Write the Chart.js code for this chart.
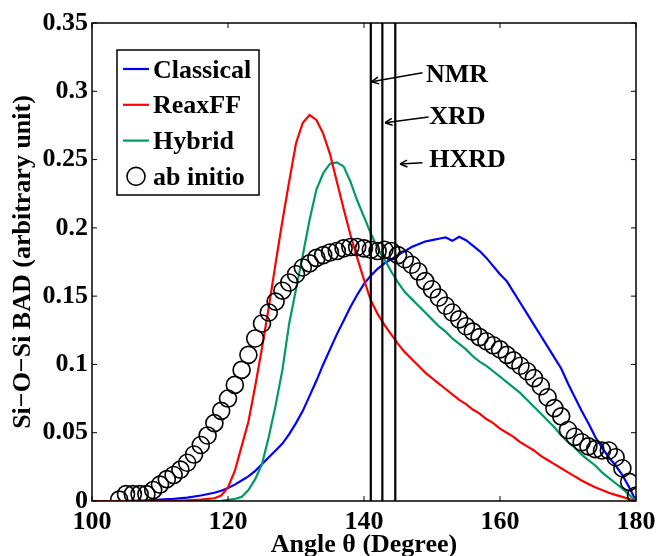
<!DOCTYPE html>
<html>
<head>
<meta charset="utf-8">
<script src="https://cdn.jsdelivr.net/npm/chart.js@4.4.0/dist/chart.umd.min.js"></script>
<style>
  html, body { margin: 0; padding: 0; background: #fff; }
</style>
</head>
<body>
<canvas id="badChart" width="657" height="556"></canvas>
<script>
// Si-O-Si bond angle distribution
var curveAngles = [100, 102, 104, 106, 108, 110, 112, 114, 116, 118,
  119, 120, 121, 122, 123, 124, 125, 126, 127, 128, 129, 130, 131, 132, 133, 134, 135, 136, 137, 138, 139,
  140, 141, 142, 143, 144, 145, 146, 147, 148, 149, 150, 151, 152, 153, 154, 155, 156, 157, 158, 159,
  160, 161, 162, 163, 164, 165, 166, 167, 168, 169, 170, 171, 172, 173, 174, 175, 176, 177, 178, 179, 180];

var classicalBAD = [0, 0, 0, 0.0002, 0.0004, 0.001, 0.0015, 0.0025, 0.004, 0.006,
  0.0075, 0.0095, 0.012, 0.015, 0.018, 0.022, 0.027, 0.032, 0.037, 0.042, 0.049, 0.057, 0.066, 0.077, 0.088, 0.100, 0.111, 0.122, 0.132, 0.142, 0.151,
  0.159, 0.165, 0.170, 0.174, 0.177, 0.180, 0.183, 0.186, 0.188, 0.190, 0.191, 0.192, 0.193, 0.1905, 0.1935, 0.191, 0.187, 0.183, 0.178, 0.172,
  0.166, 0.161, 0.153, 0.145, 0.137, 0.129, 0.121, 0.113, 0.105, 0.097, 0.086, 0.076, 0.066, 0.057, 0.047, 0.039, 0.032, 0.026, 0.019, 0.010, 0];

var reaxffBAD = [0, 0, 0, 0, 0, 0, 0.0002, 0.0005, 0.001, 0.002,
  0.004, 0.010, 0.022, 0.040, 0.058, 0.084, 0.112, 0.142, 0.174, 0.205, 0.234, 0.262, 0.277, 0.2826, 0.279, 0.269, 0.254, 0.234, 0.214, 0.195, 0.178,
  0.162, 0.147, 0.137, 0.129, 0.122, 0.115, 0.109, 0.104, 0.099, 0.094, 0.090, 0.086, 0.082, 0.078, 0.074, 0.071, 0.067, 0.064, 0.060, 0.057,
  0.053, 0.050, 0.047, 0.043, 0.040, 0.037, 0.033, 0.030, 0.027, 0.024, 0.021, 0.018, 0.015, 0.0125, 0.010, 0.008, 0.006, 0.0045, 0.003, 0.0015, 0];

var hybridBAD = [0, 0, 0, 0, 0, 0, 0, 0, 0, 0,
  0.0002, 0.0008, 0.0015, 0.003, 0.008, 0.016, 0.027, 0.047, 0.070, 0.096, 0.130, 0.155, 0.180, 0.206, 0.228, 0.240, 0.247, 0.248, 0.245, 0.234, 0.220,
  0.208, 0.196, 0.185, 0.177, 0.168, 0.160, 0.153, 0.148, 0.143, 0.138, 0.133, 0.128, 0.124, 0.119, 0.115, 0.111, 0.106, 0.102, 0.099, 0.095,
  0.091, 0.087, 0.083, 0.079, 0.074, 0.069, 0.064, 0.059, 0.054, 0.048, 0.043, 0.039, 0.034, 0.030, 0.026, 0.021, 0.017, 0.013, 0.009, 0.0045, 0];

var abInitioAngles = [104, 105, 106, 107, 108, 109, 110, 111, 112, 113, 114, 115, 116, 117, 118, 119,
  120, 121, 122, 123, 124, 125, 126, 127, 128, 129, 130, 131, 132, 133, 134, 135, 136, 137, 138, 139,
  140, 141, 142, 143, 144, 145, 146, 147, 148, 149, 150, 151, 152, 153, 154, 155, 156, 157, 158, 159,
  160, 161, 162, 163, 164, 165, 166, 167, 168, 169, 170, 171, 172, 173, 174, 175, 176, 177, 178, 179, 180];
var abInitioBAD = [0.001, 0.005, 0.005, 0.005, 0.005, 0.008, 0.012, 0.016, 0.019, 0.023, 0.028, 0.034, 0.041, 0.048, 0.057, 0.066,
  0.075, 0.085, 0.096, 0.107, 0.119, 0.130, 0.138, 0.146, 0.154, 0.160, 0.166, 0.171, 0.174, 0.178, 0.180, 0.182, 0.183, 0.185, 0.186, 0.186,
  0.185, 0.184, 0.183, 0.184, 0.183, 0.180, 0.177, 0.173, 0.168, 0.161, 0.155, 0.149, 0.143, 0.138, 0.133, 0.128, 0.124, 0.120, 0.117, 0.114,
  0.111, 0.107, 0.103, 0.099, 0.095, 0.090, 0.084, 0.076, 0.068, 0.062, 0.052, 0.047, 0.043, 0.040, 0.038, 0.037, 0.037, 0.032, 0.024, 0.014, 0.004];

// experimental reference angles
var refNames = ['NMR', 'XRD', 'HXRD'];
var refAngles = [141.0, 142.7, 144.6];

var seriesNames = ['Classical', 'ReaxFF', 'Hybrid', 'ab initio'];
var xTicks = [100, 120, 140, 160, 180];
var yTicks = [0, 0.05, 0.1, 0.15, 0.2, 0.25, 0.3, 0.35];
var yTickLabels = ['0', '0.05', '0.1', '0.15', '0.2', '0.25', '0.3', '0.35'];

var BLUE = '#0000ff', RED = '#ff0000', GREEN = '#009a68';
var FONT = 'Liberation Serif';

function pairs(xs, ys) {
  return xs.map(function (x, i) { return { x: x, y: ys[i] }; });
}

// arrows pointing to the reference lines: tail, tip and label baseline in data units
var refNotes = [
  { tail: [148.6, 0.3136], tip: [141.1, 0.3070], label: [149.1, 0.3068] },
  { tail: [149.5, 0.2812], tip: [143.1, 0.2770], label: [149.6, 0.2760] },
  { tail: [148.6, 0.2477], tip: [145.3, 0.2468], label: [149.6, 0.2448] }
];

var datasets = [
  { label: seriesNames[3], data: pairs(abInitioAngles, abInitioBAD), showLine: false,
    pointRadius: 8.5, pointBorderWidth: 1.6, pointBorderColor: '#000', pointBackgroundColor: 'rgba(0,0,0,0)', order: 0 },
  { label: seriesNames[1], data: pairs(curveAngles, reaxffBAD), borderColor: RED, order: 2 },
  { label: seriesNames[2], data: pairs(curveAngles, hybridBAD), borderColor: GREEN, order: 3 },
  { label: seriesNames[0], data: pairs(curveAngles, classicalBAD), borderColor: BLUE, order: 4 }
];
refAngles.forEach(function (a, i) {
  datasets.push({ label: refNames[i], data: [{ x: a, y: 0 }, { x: a, y: 0.35 }],
    borderColor: '#000', borderWidth: 2.2, order: 1 });
});
datasets.forEach(function (d) {
  if (d.showLine !== false) {
    d.showLine = true;
    d.pointRadius = 0;
    if (!d.borderWidth) d.borderWidth = 2.2;
    d.tension = 0;
  }
});

// box, inward ticks, legend and arrow notes
var decorations = {
  id: 'decorations',
  afterDatasetsDraw: function (chart) {
    var ctx = chart.ctx, a = chart.chartArea;
    var xs = chart.scales.x, ys = chart.scales.y;
    function seg(x1, y1, x2, y2) { ctx.beginPath(); ctx.moveTo(x1, y1); ctx.lineTo(x2, y2); ctx.stroke(); }
    ctx.save();
    ctx.strokeStyle = '#000';
    ctx.lineWidth = 1.5;
    ctx.strokeRect(a.left, a.top, a.right - a.left, a.bottom - a.top);
    ctx.lineWidth = 1;
    xTicks.forEach(function (v) {
      var px = xs.getPixelForValue(v);
      seg(px, a.bottom, px, a.bottom - 5);
      seg(px, a.top, px, a.top + 5);
    });
    yTicks.forEach(function (v) {
      var py = ys.getPixelForValue(v);
      seg(a.left, py, a.left + 5, py);
      seg(a.right, py, a.right - 5, py);
    });

    // arrows and labels for the reference lines
    ctx.fillStyle = '#000';
    ctx.font = 'bold 26px "' + FONT + '"';
    ctx.textBaseline = 'alphabetic';
    ctx.textAlign = 'left';
    ctx.lineWidth = 1.5;
    refNotes.forEach(function (n, i) {
      var tx = xs.getPixelForValue(n.tail[0]), ty = ys.getPixelForValue(n.tail[1]);
      var hx = xs.getPixelForValue(n.tip[0]), hy = ys.getPixelForValue(n.tip[1]);
      seg(tx, ty, hx, hy);
      var ang = Math.atan2(ty - hy, tx - hx);
      var len = 8, spread = 0.45;
      seg(hx, hy, hx + len * Math.cos(ang + spread), hy + len * Math.sin(ang + spread));
      seg(hx, hy, hx + len * Math.cos(ang - spread), hy + len * Math.sin(ang - spread));
      ctx.fillText(refNames[i], xs.getPixelForValue(n.label[0]), ys.getPixelForValue(n.label[1]));
    });

    // legend box
    var lx = a.left + 25, ly = a.top + 27, lw = 142, lh = 145;
    ctx.fillStyle = '#fff';
    ctx.fillRect(lx, ly, lw, lh);
    ctx.lineWidth = 1.5;
    ctx.strokeRect(lx, ly, lw, lh);
    var rows = [
      { name: seriesNames[0], color: BLUE },
      { name: seriesNames[1], color: RED },
      { name: seriesNames[2], color: GREEN },
      { name: seriesNames[3], color: null }
    ];
    rows.forEach(function (r, i) {
      var cy = ly + 19 + i * 35.8;
      if (r.color) {
        ctx.strokeStyle = r.color;
        ctx.lineWidth = 2.2;
        seg(lx + 6, cy, lx + 32, cy);
      } else {
        ctx.strokeStyle = '#000';
        ctx.lineWidth = 1.6;
        ctx.beginPath();
        ctx.arc(lx + 19, cy, 9, 0, Math.PI * 2);
        ctx.stroke();
      }
      ctx.fillStyle = '#000';
      ctx.fillText(r.name, lx + 36, cy + 8.5);
    });
    ctx.restore();
  }
};

new Chart(document.getElementById('badChart').getContext('2d'), {
  type: 'scatter',
  data: { datasets: datasets },
  options: {
    responsive: false,
    animation: false,
    layout: { padding: { left: 0, right: 21, top: 23, bottom: 0 } },
    plugins: { legend: { display: false }, tooltip: { enabled: false } },
    scales: {
      x: {
        type: 'linear', min: 100, max: 180,
        grid: { display: false, drawTicks: false },
        border: { display: false },
        afterBuildTicks: function (s) { s.ticks = xTicks.map(function (v) { return { value: v }; }); },
        afterFit: function (s) { s.height = 55; s.paddingLeft = 0; s.paddingRight = 0; },
        ticks: { color: '#000', padding: 8, maxRotation: 0, autoSkip: false,
          font: { family: FONT, weight: 'bold', size: 26, lineHeight: 1 } },
        title: { display: true, text: 'Angle θ (Degree)', color: '#000', padding: { top: 0, bottom: -2 },
          font: { family: FONT, weight: 'bold', size: 26, lineHeight: 1 } }
      },
      y: {
        type: 'linear', min: 0, max: 0.35,
        grid: { display: false, drawTicks: false },
        border: { display: false },
        afterBuildTicks: function (s) { s.ticks = yTicks.map(function (v) { return { value: v }; }); },
        afterFit: function (s) { s.width = 92; s.paddingTop = 0; s.paddingBottom = 0; },
        ticks: { color: '#000', padding: 4, autoSkip: false,
          callback: function (v, i) { return yTickLabels[i]; },
          font: { family: FONT, weight: 'bold', size: 26, lineHeight: 1 } },
        title: { display: true, text: 'Si−O−Si BAD (arbitrary unit)', color: '#000', padding: { top: 10, bottom: 0 },
          font: { family: FONT, weight: 'bold', size: 26, lineHeight: 1 } }
      }
    }
  },
  plugins: [decorations]
});
</script>
</body>
</html>
